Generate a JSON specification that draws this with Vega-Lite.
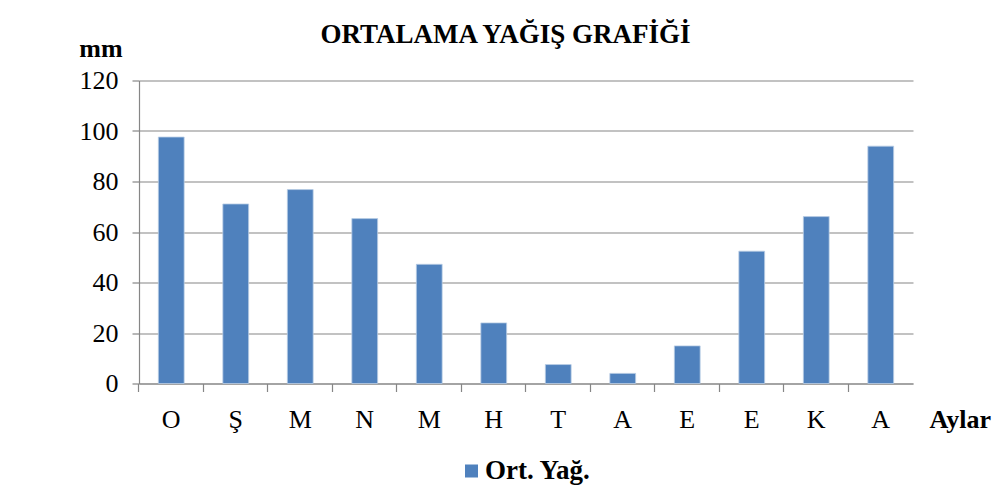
{
  "$schema": "https://vega.github.io/schema/vega-lite/v6.json",
  "width": 774,
  "height": 303,
  "autosize": "none",
  "padding": {"left": 139, "top": 80.5, "right": 83, "bottom": 106.5},
  "background": "white",
  "title": {
    "text": "ORTALAMA YAĞIŞ GRAFİĞİ",
    "font": "Liberation Serif",
    "fontSize": 27,
    "fontWeight": "bold",
    "color": "black",
    "anchor": "middle",
    "frame": "group",
    "dx": -20.5,
    "dy": 38,
    "baseline": "alphabetic",
    "offset": 4
  },
  "data": {
    "values": [
      {"i": 0, "ay": "O", "yagis": 97.6, "seri": "Ort. Yağ."},
      {"i": 1, "ay": "Ş", "yagis": 71.1, "seri": "Ort. Yağ."},
      {"i": 2, "ay": "M", "yagis": 76.8, "seri": "Ort. Yağ."},
      {"i": 3, "ay": "N", "yagis": 65.3, "seri": "Ort. Yağ."},
      {"i": 4, "ay": "M", "yagis": 47.2, "seri": "Ort. Yağ."},
      {"i": 5, "ay": "H", "yagis": 24.0, "seri": "Ort. Yağ."},
      {"i": 6, "ay": "T", "yagis": 7.5, "seri": "Ort. Yağ."},
      {"i": 7, "ay": "A", "yagis": 4.0, "seri": "Ort. Yağ."},
      {"i": 8, "ay": "E", "yagis": 14.9, "seri": "Ort. Yağ."},
      {"i": 9, "ay": "E", "yagis": 52.4, "seri": "Ort. Yağ."},
      {"i": 10, "ay": "K", "yagis": 66.1, "seri": "Ort. Yağ."},
      {"i": 11, "ay": "A", "yagis": 94.0, "seri": "Ort. Yağ."}
    ]
  },
  "mark": {"type": "bar", "stroke": "#B9CDE5", "strokeWidth": 0.8},
  "encoding": {
    "x": {
      "field": "i",
      "type": "ordinal",
      "scale": {"paddingInner": 0.6, "paddingOuter": 0.3},
      "axis": {
        "bandPosition": -0.75,
        "labelExpr": "['O','Ş','M','N','M','H','T','A','E','E','K','A'][datum.value]",
        "labelAngle": 0,
        "labelFontSize": 26,
        "labelBaseline": "alphabetic",
        "labelPadding": 35.5,
        "tickSize": 8,
        "grid": false,
        "title": "Aylar",
        "titleX": 790,
        "titleY": 43.5,
        "titleAlign": "left",
        "titleBaseline": "alphabetic",
        "titleFontSize": 26,
        "titleFontWeight": "bold"
      }
    },
    "y": {
      "field": "yagis",
      "type": "quantitative",
      "scale": {"domain": [0, 120]},
      "axis": {
        "values": [0, 20, 40, 60, 80, 100, 120],
        "grid": true,
        "tickSize": 7,
        "labelPadding": 14,
        "labelFontSize": 26,
        "title": "mm",
        "titleAngle": 0,
        "titleX": -38.5,
        "titleY": -24,
        "titleAlign": "center",
        "titleBaseline": "alphabetic",
        "titleFontSize": 26,
        "titleFontWeight": "bold"
      }
    },
    "color": {
      "field": "seri",
      "type": "nominal",
      "scale": {"range": ["#4F81BD"]},
      "legend": {
        "orient": "none",
        "legendX": 319,
        "legendY": 377,
        "title": null,
        "symbolType": "square",
        "symbolSize": 169,
        "symbolStrokeWidth": 0,
        "labelFont": "Liberation Serif",
        "labelFontSize": 27,
        "labelFontWeight": "bold",
        "labelColor": "black",
        "labelOffset": 0
      }
    }
  },
  "config": {
    "font": "Liberation Serif",
    "view": {"stroke": null},
    "axis": {
      "labelFont": "Liberation Serif",
      "titleFont": "Liberation Serif",
      "labelColor": "black",
      "titleColor": "black",
      "domainColor": "#868686",
      "tickColor": "#868686",
      "gridColor": "#868686",
      "gridOpacity": 1,
      "domainWidth": 1.2,
      "tickWidth": 1.2,
      "gridWidth": 1.2
    }
  }
}
